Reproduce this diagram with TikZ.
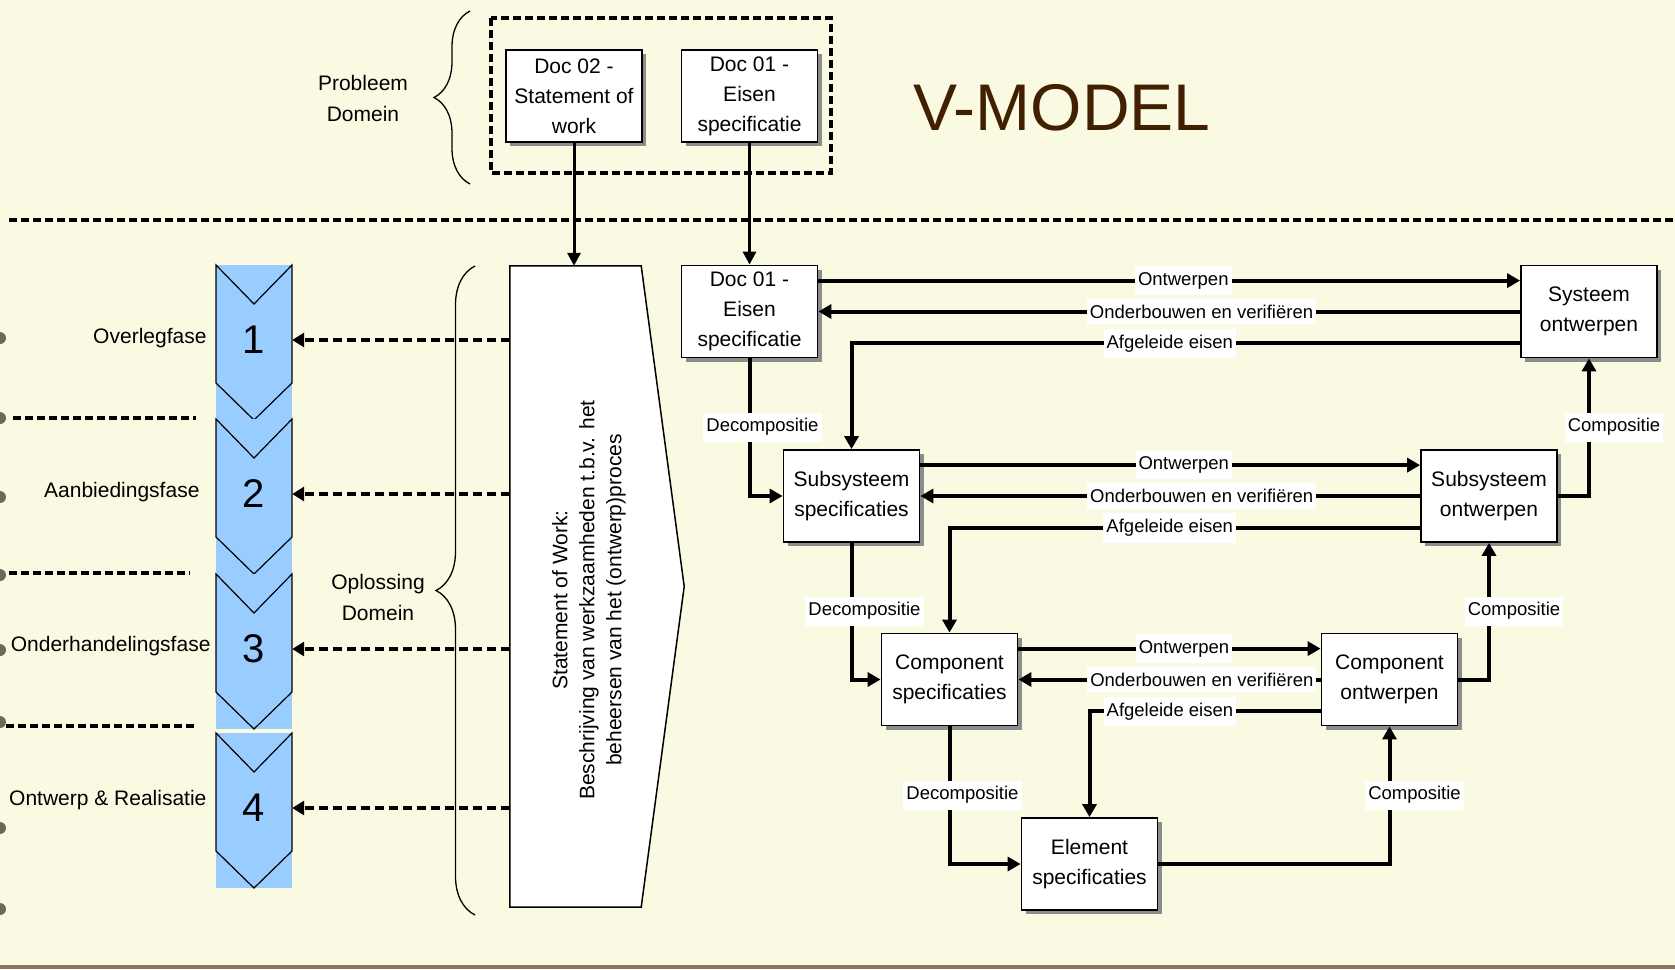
\documentclass[tikz,border=0pt]{standalone}
\usepackage{fontspec}
\setmainfont{Liberation Sans}
\usetikzlibrary{arrows.meta,shadows,decorations.pathreplacing}

\definecolor{paper}{RGB}{250,250,226}
\definecolor{phaseblue}{RGB}{153,204,255}
\definecolor{titlebrown}{RGB}{64,32,0}
\definecolor{barbrown}{RGB}{136,120,90}
\definecolor{holegrey}{RGB}{85,80,62}

\tikzset{
  docbox/.style={draw,line width=1.8pt,fill=white,align=center,minimum width=136pt,minimum height=92pt,inner sep=2pt,
    font=\fontsize{21}{30}\selectfont,general shadow={fill=gray!90,shadow xshift=4pt,shadow yshift=-4pt}},
  lbl/.style={fill=white,inner xsep=3pt,inner ysep=6pt,font=\fontsize{18.5}{20}\selectfont},
  flow/.style={line width=4pt,-{Triangle[length=13pt,width=14pt]}},
  feed/.style={line width=3pt,-{Triangle[length=13pt,width=13pt]}},
  phasearrow/.style={line width=3.5pt,dash pattern=on 9pt off 5pt,-{Triangle[length=12pt,width=14pt]}},
  sepline/.style={line width=3.2pt,dash pattern=on 8pt off 4pt},
  bracket/.style={line width=1.3pt,decorate,decoration={brace,amplitude=#1}},
  fasetext/.style={anchor=base east,font=\fontsize{21}{24}\selectfont}
}

\begin{document}
\begin{tikzpicture}[x=1pt,y=-1pt]

\useasboundingbox (0,0) rectangle (1675,969);

\fill[paper] (0,0) rectangle (1675,969);

\fill[barbrown] (0,965) rectangle (1675,969);

\foreach \y in {338,418,497,575,650,722,828,909}
  \fill[holegrey,opacity=0.85] (0,\y) circle[radius=6pt];

\node[font=\fontsize{66}{70}\selectfont,text=titlebrown] (title) at (1062,108) {V-MODEL};

\node[align=center,font=\fontsize{21}{31}\selectfont] (probleem) at (363,98) {Probleem\\Domein};

\draw[bracket=36pt] (470,184) -- (470,11);

\draw[sepline] (491,18) rectangle (831,173);

\node[docbox] (doc2) at (574,96) {Doc 02 -\\Statement of\\work};

\node[docbox] (doc1) at (749.5,96) {Doc 01 -\\Eisen\\specificatie};

\draw[sepline] (9,220) -- (1675,220);

\draw[sepline] (13,418) -- (196,418);

\draw[sepline] (9,573) -- (190,573);

\draw[sepline] (6,726) -- (196,726);

\node[fasetext] (fase1) at (210,343) {Overlegfase};

\node[fasetext] (fase2) at (203,497) {Aanbiedingsfase};

\node[fasetext] (fase3) at (214,651) {Onderhandelingsfase};

\node[fasetext] (fase4) at (210,805) {Ontwerp \& Realisatie};

\foreach \i/\y in {1/265,2/419,3/574,4/733}{
  \fill[phaseblue] (216,\y) rectangle (292,\y+155);
  \draw[line width=1.2pt] (216,\y) -- (254,\y+39) -- (292,\y) -- (292,\y+118) -- (254,\y+155) -- (216,\y+118) -- cycle;
  \node[minimum width=76pt,minimum height=60pt,font=\fontsize{40}{42}\selectfont] (phase\i) at (254,\y+75) {\i};
}

\node[align=center,font=\fontsize{21}{31}\selectfont] (oplossing) at (378,597) {Oplossing\\Domein};

\draw[bracket=39pt] (475,915) -- (475,266);

\node[minimum width=131pt,minimum height=641pt,inner sep=0pt] (sow) at (575.5,586.5) {};

\draw[line width=1.5pt,fill=white] (sow.north west) -- (sow.north east) -- ([xshift=43pt]sow.east) -- (sow.south east) -- (sow.south west) -- cycle;

\node[rotate=90,align=center,font=\fontsize{21}{27}\selectfont] (sowtext) at (589,600) {Statement of Work:\\Beschrijving van werkzaamheden t.b.v. het\\beheersen van het (ontwerp)proces};

\foreach \i in {1,...,4}
  \draw[phasearrow] (sow.west |- phase\i) -- (phase\i.east);

\node[docbox] (eisen) at (749.5,311.5) {Doc 01 -\\Eisen\\specificatie};

\node[docbox] (sys) at (1589,311.5) {Systeem\\ontwerpen};

\node[docbox] (subspec) at (851.5,496) {Subsysteem\\specificaties};

\node[docbox] (subont) at (1489,496) {Subsysteem\\ontwerpen};

\node[docbox] (compspec) at (949.5,679.5) {Component\\specificaties};

\node[docbox] (compont) at (1389.5,679.5) {Component\\ontwerpen};

\node[docbox] (elem) at (1089.5,864) {Element\\specificaties};

\draw[feed] (doc2.south) -- (doc2.south |- sow.north);

\draw[feed] (doc1.south) -- (eisen.north);

\draw[flow] ([yshift=-16pt]eisen.north east) -- ([yshift=-16pt]sys.north west) node[lbl,pos=0.52] (ontw1) {Ontwerpen};

\draw[flow] (sys.west) -- (eisen.east) node[lbl,pos=0.454] (onder1) {Onderbouwen en verifiëren};

\draw[flow] ([yshift=15pt]sys.south west) -| (subspec.north) node[lbl,pos=0.262] (afg1) {Afgeleide eisen};

\draw[flow] ([yshift=-16pt]subspec.north east) -- ([yshift=-16pt]subont.north west) node[lbl,pos=0.527] (ontw2) {Ontwerpen};

\draw[flow] (subont.west) -- (subspec.east) node[lbl,pos=0.437] (onder2) {Onderbouwen en verifiëren};

\draw[flow] ([yshift=15pt]subont.south west) -| (compspec.north) node[lbl,pos=0.266] (afg2) {Afgeleide eisen};

\draw[flow] ([yshift=-16pt]compspec.north east) -- ([yshift=-16pt]compont.north west) node[lbl,pos=0.548] (ontw3) {Ontwerpen};

\draw[flow] (compont.west) -- (compspec.east) node[lbl,pos=0.393] (onder3) {Onderbouwen en verifiëren};

\draw[flow] ([yshift=15pt]compont.south west) -| (elem.north) node[lbl,pos=0.326] (afg3) {Afgeleide eisen};

\draw[flow] (eisen.south) |- (subspec.west) node[lbl,pos=0.25,xshift=13pt] (dec1) {Decompositie};

\draw[flow] (subspec.south) |- (compspec.west) node[lbl,pos=0.25,xshift=13pt] (dec2) {Decompositie};

\draw[flow] (compspec.south) |- (elem.west) node[lbl,pos=0.25,xshift=13pt] (dec3) {Decompositie};

\draw[flow] (elem.east) -| (compont.south) node[lbl,pos=0.75,xshift=25pt] (comp1) {Compositie};

\draw[flow] (compont.east) -| (subont.south) node[lbl,pos=0.75,xshift=25pt] (comp2) {Compositie};

\draw[flow] (subont.east) -| (sys.south) node[lbl,pos=0.75,xshift=25pt] (comp3) {Compositie};

\end{tikzpicture}
\end{document}
